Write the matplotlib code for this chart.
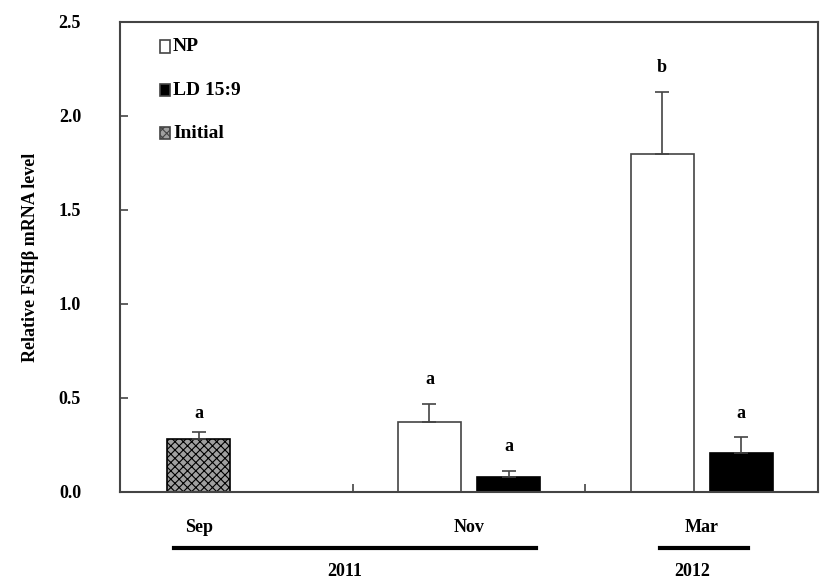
import numpy as np
import matplotlib
matplotlib.use("Agg")
import matplotlib.pyplot as plt
from matplotlib.patches import Rectangle

plt.rcParams['font.family'] = ['Liberation Serif', 'DejaVu Serif']
plt.rcParams['font.weight'] = 'bold'
plt.rcParams['axes.labelweight'] = 'bold'
plt.rcParams['hatch.linewidth'] = 0.8

mois = ["Sep", "Nov", "Mar"]
annees = ["2011", "2012"]
# valeurs
initial = [0.28]
initial_err = [0.04]
np_vals = [0.37, 1.80]
np_err = [0.10, 0.33]
ld_vals = [0.08, 0.21]
ld_err = [0.03, 0.08]
lettres_init = ["a"]
lettres_np = ["a", "b"]
lettres_ld = ["a", "a"]

fig = plt.figure(figsize=(8.27, 5.81), dpi=100)
ax = fig.add_axes([120/827, 1-492/581, 698/827, 470/581])

w = 0.27
dx = 0.17
gris = '#444444'
x_init = [0 - dx*0.95]

ax.bar(x_init, initial, w, color='#a0a0a0', edgecolor='black', hatch='xxxx', linewidth=1.2, zorder=2)
ax.errorbar(x_init, initial, yerr=[[0], initial_err], fmt='none', ecolor=gris, capsize=5, elinewidth=1.2, capthick=1.2)

x_np = np.array([1, 2]) - dx
x_ld = np.array([1, 2]) + dx
ax.bar(x_np, np_vals, w, color='white', edgecolor=gris, linewidth=1.2, zorder=2)
ax.errorbar(x_np, np_vals, yerr=[[0, 0], np_err], fmt='none', ecolor=gris, capsize=5, elinewidth=1.2, capthick=1.2)
ax.bar(x_ld, ld_vals, w, color='black', edgecolor='black', linewidth=1.2, zorder=2)
ax.errorbar(x_ld, ld_vals, yerr=[[0, 0], ld_err], fmt='none', ecolor=gris, capsize=5, elinewidth=1.2, capthick=1.2)

# lettres de significativité
for x, v, e, l in zip(x_init, initial, initial_err, lettres_init):
    ax.text(x, v + e + 0.1, l, ha='center', va='center', fontsize=13)
for x, v, e, l in zip(x_np, np_vals, np_err, lettres_np):
    ax.text(x, v + e + 0.13, l, ha='center', va='center', fontsize=13)
for x, v, e, l in zip(x_ld, ld_vals, ld_err, lettres_ld):
    ax.text(x, v + e + 0.13, l, ha='center', va='center', fontsize=13)

ax.set_xlim(-0.5, 2.5)
ax.set_ylim(0, 2.5)
ax.set_yticks(np.arange(0, 2.51, 0.5))
ax.set_yticklabels([f"{t:.1f}" for t in np.arange(0, 2.51, 0.5)], fontsize=13)
ax.set_xticks([0.5, 1.5])
ax.set_xticklabels([])
ax.tick_params(axis='y', direction='in', length=6, pad=28, color=gris, width=1.2)
ax.tick_params(axis='x', direction='in', length=6, color=gris, width=1.2)
for s in ax.spines.values():
    s.set_color(gris)
    s.set_linewidth(1.5)
ax.set_ylabel("Relative FSHβ mRNA level", fontsize=13, labelpad=14)

# légende faite à la main
leg = [("NP", 'white', None), ("LD 15:9", 'black', None), ("Initial", '#a0a0a0', 'xxxx')]
for i, (lab, c, h) in enumerate(leg):
    yy = 0.947 - i * 0.092
    ax.add_patch(Rectangle((0.058, yy - 0.012), 0.014, 0.026, transform=ax.transAxes,
                           facecolor=c, edgecolor=gris, hatch=h, linewidth=1.2, clip_on=False))
    ax.text(0.076, yy, lab, transform=ax.transAxes, ha='left', va='center', fontsize=14)

# mois et années sous l'axe
for xm, m in zip([x_init[0], 1, 2], mois):
    ax.text(xm, -0.19, m, ha='center', va='center', fontsize=13, clip_on=False)
ax.plot([-0.27, 1.29], [-0.30, -0.30], color='black', lw=3, clip_on=False)
ax.plot([1.82, 2.20], [-0.30, -0.30], color='black', lw=3, clip_on=False)
ax.text(0.466, -0.425, annees[0], ha='center', va='center', fontsize=13, clip_on=False)
ax.text(1.96, -0.425, annees[1], ha='center', va='center', fontsize=13, clip_on=False)

fig.savefig("out.png", dpi=100)
